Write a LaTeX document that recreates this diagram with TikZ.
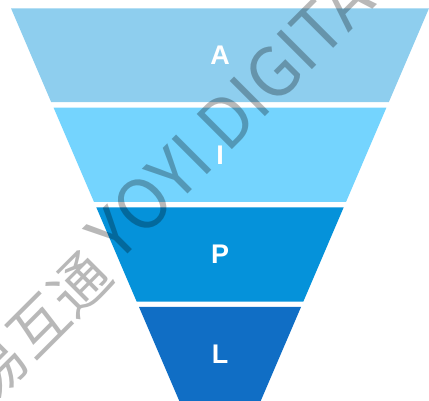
\documentclass[tikz,border=0pt]{standalone}
\usepackage{fontspec}
\usepackage{xcolor}
\usetikzlibrary{positioning}
\newfontfamily\labelfont{Liberation Sans}
\newfontfamily\wmfont{Noto Sans CJK SC}
\definecolor{funA}{HTML}{8ECEEE}
\definecolor{funI}{HTML}{74D4FE}
\definecolor{funP}{HTML}{0592DA}
\definecolor{funL}{HTML}{106EC5}

\begin{document}
\begin{tikzpicture}[x=0.03cm,y=0.03cm,
  lbl/.style={text=white,font=\labelfont\bfseries\fontsize{23}{23}\selectfont},
  wmark/.style={text=black,text opacity=0.28,inner sep=0pt,transform shape,
    font=\wmfont\fontsize{58}{58}\selectfont}]
  \useasboundingbox (0,0) rectangle (429,401);
  \fill[funA] (11,392.7) -- (429,392.7) -- (388.8,298.8) -- (51.2,298.8) -- cycle;
  \fill[funI] (53.6,293.3) -- (386.4,293.3) -- (346,199) -- (94,199) -- cycle;
  \fill[funP] (96.3,193.7) -- (343.7,193.7) -- (303.3,99.3) -- (136.7,99.3) -- cycle;
  \fill[funL] (139,94) -- (301,94) -- (260.7,0) -- (179.3,0) -- cycle;
  \node[lbl] (A) at (220,345.8) {A};
  \node[lbl] (I) at (220,246.2) {I};
  \node[lbl] (P) at (220,146.5) {P};
  \node[lbl] (L) at (220,47) {L};
  \begin{scope}[shift={(117.5,136.5)},rotate=45]
    \node[wmark,anchor=base west] (wmEn) at (0,0) {YOYI DIGITAL};
    \node[wmark,anchor=base east,font=\wmfont\fontsize{50}{50}\selectfont] (wmCn) at (-11,-9) {悠易互通};
  \end{scope}
\end{tikzpicture}
\end{document}
